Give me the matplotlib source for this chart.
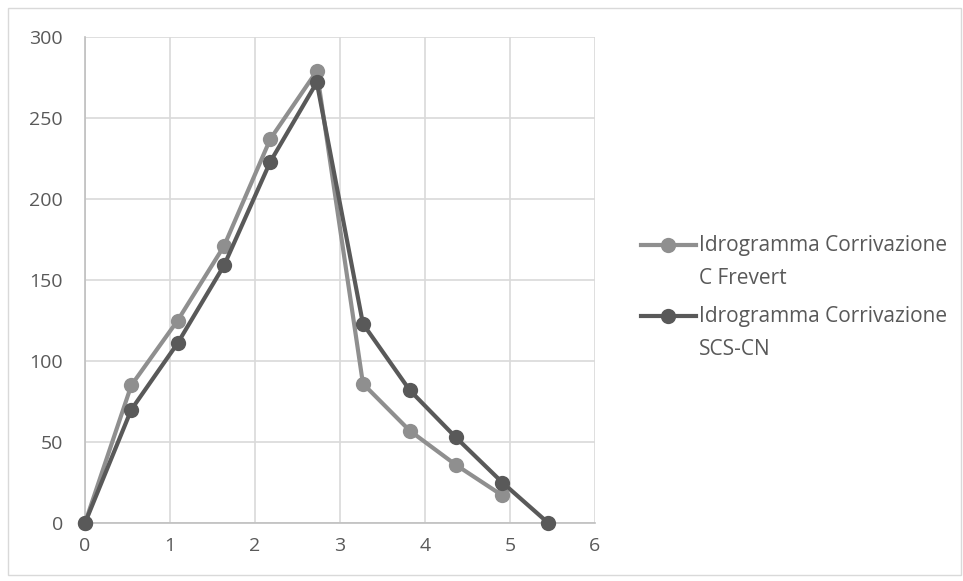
import matplotlib
matplotlib.use("Agg")
import matplotlib.pyplot as plt
from matplotlib.lines import Line2D
from matplotlib.patches import Rectangle

# Hydrograph data (time in hours, discharge)
t_frevert = [0, 0.545, 1.09, 1.636, 2.18, 2.727, 3.27, 3.82, 4.36, 4.91]
q_frevert = [0, 85, 125, 171, 237, 279, 86, 57, 36, 17]

t_scs = [0, 0.545, 1.09, 1.636, 2.18, 2.727, 3.27, 3.82, 4.36, 4.91, 5.45]
q_scs = [0, 70, 111, 159, 223, 272, 123, 82, 53, 25, 0]

series_labels = ["Idrogramma Corrivazione\nC Frevert",
                 "Idrogramma Corrivazione\nSCS-CN"]
series_colors = ["#8f8f8f", "#595959"]

x_ticks = [0, 1, 2, 3, 4, 5, 6]
y_ticks = [0, 50, 100, 150, 200, 250, 300]

plt.rcParams["font.family"] = ["Open Sans", "DejaVu Sans"]
TICK_FS = 14
LEG_FS = 15

W, H = 963, 581
fig = plt.figure(figsize=(W / 100, H / 100), dpi=100)
fig.patch.set_facecolor("white")

# outer chart border
fig.add_artist(Rectangle((8 / W, 1 - 575 / H), (961 - 8) / W, (575 - 8) / H,
                         transform=fig.transFigure, fill=False,
                         edgecolor="#d9d9d9", linewidth=1.0))

ax = fig.add_axes([85 / W, 1 - 523 / H, (595 - 85) / W, (523 - 37) / H])
ax.set_xlim(0, 6)
ax.set_ylim(0, 300)
ax.set_xticks(x_ticks)
ax.set_yticks(y_ticks)
ax.grid(True, color="#d9d9d9", linewidth=1.2)
ax.set_axisbelow(True)
for side in ("top", "right"):
    ax.spines[side].set_visible(False)
for side in ("left", "bottom"):
    ax.spines[side].set_color("#bfbfbf")
    ax.spines[side].set_linewidth(1.2)
ax.tick_params(length=0, labelsize=TICK_FS, labelcolor="#595959")
ax.tick_params(axis="y", pad=16)
ax.tick_params(axis="x", pad=10)

series = [(t_frevert, q_frevert), (t_scs, q_scs)]
for (t, q), c in zip(series, series_colors):
    ax.plot(t, q, color=c, linewidth=3, marker="o", markersize=11,
            markeredgewidth=0, clip_on=False, zorder=3)

# legend entries
legend_y = [245, 316]
for ly, lab, c in zip(legend_y, series_labels, series_colors):
    yf = 1 - ly / H
    fig.add_artist(Line2D([641 / W, 696 / W], [yf, yf], transform=fig.transFigure,
                          color=c, linewidth=3))
    fig.add_artist(Line2D([668 / W], [yf], transform=fig.transFigure,
                          color=c, marker="o", markersize=11, markeredgewidth=0))
    fig.text(699 / W, yf + 10 / H, lab, fontsize=LEG_FS, color="#595959",
             va="top", ha="left", linespacing=1.72)

fig.savefig("out.png", dpi=100, facecolor="white")
